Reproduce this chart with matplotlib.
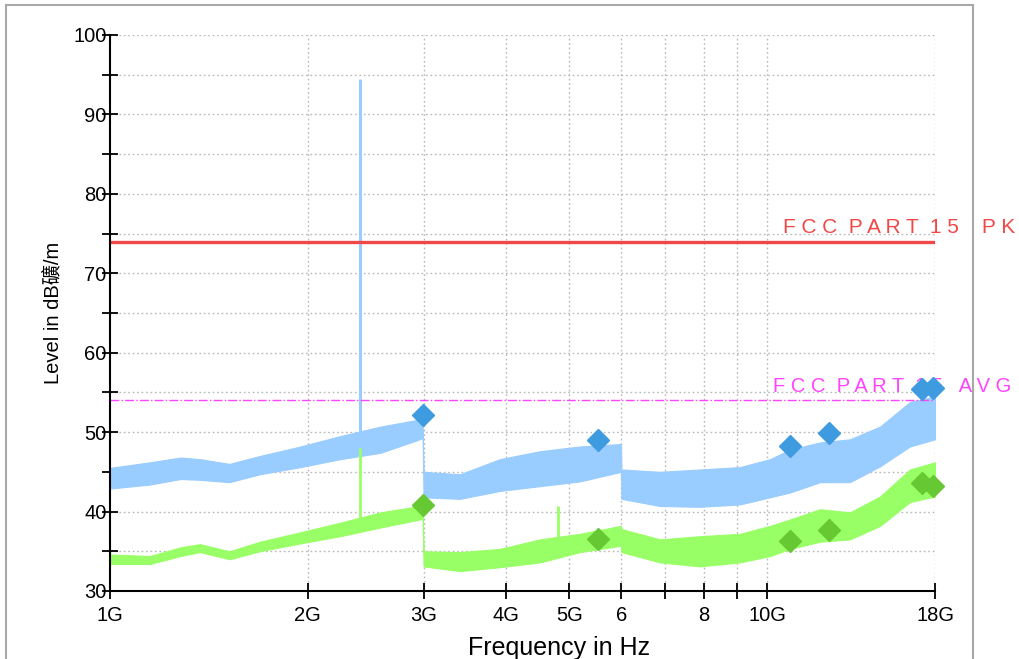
import numpy as np
import matplotlib
matplotlib.use("Agg")
import matplotlib.pyplot as plt
from matplotlib.patches import Rectangle
from matplotlib.ticker import NullLocator

# ---- data ----
freq_ghz = [1.0, 1.15, 1.28, 1.37, 1.52, 1.69, 1.95, 2.24, 2.58, 2.96, 2.99,
            3.0, 3.41, 3.92, 4.51, 5.19, 5.99,
            6.0, 6.87, 7.9, 9.09, 10.1, 10.83, 12.03, 13.36, 14.85, 16.49, 18.0]
peak_lo = [42.9, 43.4, 44.1, 44.0, 43.7, 44.7, 45.6, 46.6, 47.4, 49.1, 49.3,
           41.8, 41.6, 42.6, 43.2, 43.8, 45.0,
           41.6, 40.7, 40.6, 40.9, 41.8, 42.4, 43.7, 43.7, 45.7, 48.2, 49.1]
peak_hi = [45.5, 46.2, 46.8, 46.6, 46.0, 47.0, 48.2, 49.5, 50.7, 51.6, 51.8,
           45.0, 44.7, 46.6, 47.6, 48.2, 48.5,
           45.3, 45.0, 45.3, 45.6, 46.6, 47.8, 48.7, 49.1, 50.7, 53.8, 54.5]
avg_lo = [33.4, 33.4, 34.4, 34.9, 34.0, 35.0, 36.0, 36.9, 38.0, 39.0, 39.2,
          33.1, 32.5, 33.0, 33.6, 34.9, 35.7,
          34.9, 33.6, 33.1, 33.6, 34.4, 35.3, 36.2, 36.5, 38.2, 41.2, 41.9]
avg_hi = [34.6, 34.4, 35.5, 35.9, 35.0, 36.2, 37.4, 38.6, 39.9, 40.7, 40.9,
          35.0, 34.9, 35.3, 36.5, 37.2, 38.2,
          37.8, 36.5, 36.9, 37.2, 38.2, 39.0, 40.3, 39.9, 41.9, 45.3, 46.2]

peak_spike_freq = [2.4]
peak_spike_level = [94.5]
avg_spike_freq = [2.4, 4.8]
avg_spike_level = [48.0, 40.7]

marker_freq = [2.99, 5.53, 10.83, 12.42, 17.2, 17.88]
marker_peak = [52.1, 49.0, 48.3, 49.9, 55.4, 55.5]
marker_avg = [40.8, 36.5, 36.3, 37.7, 43.6, 43.2]

limit_pk = 74.0
limit_avg = 54.0

xtick_vals = [1, 2, 3, 4, 5, 6, 7, 8, 9, 10, 18]
xtick_labels = ['1G', '2G', '3G', '4G', '5G', '6', '', '8', '', '10G', '18G']
ytick_vals = [30, 40, 50, 60, 70, 80, 90, 100]
ytick_labels = ['30', '40', '50', '60', '70', '80', '90', '100']

# ---- figure ----
W, H = 1020, 659
fig = plt.figure(figsize=(W / 100, H / 100), dpi=100)
fig.patch.set_facecolor('white')
ax = fig.add_axes([110 / W, 1 - 591 / H, 825 / W, 556 / H])
ax.set_xscale('log')
ax.set_xlim(1, 18)
ax.set_ylim(30, 100)

font = 'Liberation Sans'

# grid
for yv in range(35, 101, 5):
    ax.axhline(yv, color='#b8b8b8', lw=1.0, ls=(0, (1.2, 2.0)), zorder=0)
for xv in xtick_vals[1:]:
    ax.axvline(xv, color='#b8b8b8', lw=1.0, ls=(0, (1.2, 2.0)), zorder=0)

f = np.array(freq_ghz)
ax.fill_between(f, peak_lo, peak_hi, color='#99ccff', lw=0.8, edgecolor='#99ccff', zorder=2)
ax.fill_between(f, avg_lo, avg_hi, color='#99ff66', lw=0.8, edgecolor='#99ff66', zorder=3)

logf = np.log10(f)
for sf, sl in zip(peak_spike_freq, peak_spike_level):
    base = np.interp(np.log10(sf), logf, peak_hi)
    ax.vlines(sf, base - 1, sl, color='#99ccff', lw=2.2, zorder=2)
for sf, sl in zip(avg_spike_freq, avg_spike_level):
    base = np.interp(np.log10(sf), logf, avg_hi)
    ax.vlines(sf, base - 1, sl, color='#99ff66', lw=2.0, zorder=3)

# limit lines
ax.plot([1, 18], [limit_pk, limit_pk], color='#f04848', lw=2.4, zorder=4, solid_capstyle='butt')
ax.plot([1, 18], [limit_avg, limit_avg], color='#ff44ff', lw=1.0, ls='-.', zorder=4)

tr = ax.get_yaxis_transform()
ax.text((783 - 110) / 825, limit_pk + 0.6, 'F C C  P A R T  1 5    P K', color='#f04848',
        fontsize=15, family=font, transform=tr, clip_on=False, va='bottom', ha='left', zorder=1)
ax.text((773 - 110) / 825, limit_avg + 0.5, 'F C C  P A R T  1 5   A V G', color='#ff44ff',
        fontsize=14.5, family=font, transform=tr, clip_on=False, va='bottom', ha='left', zorder=1)

# markers
ax.plot(marker_freq, marker_peak, ls='none', marker='D', ms=11, color='#3f9be0', zorder=6, clip_on=False)
ax.plot(marker_freq, marker_avg, ls='none', marker='D', ms=11, color='#66c933', zorder=6, clip_on=False)

# axes styling
for s in ['top', 'right']:
    ax.spines[s].set_visible(False)
for s in ['left', 'bottom']:
    ax.spines[s].set_linewidth(1.5)
    ax.spines[s].set_color('black')
    ax.spines[s].set_zorder(7)

ax.xaxis.set_minor_locator(NullLocator())
ax.set_xticks(xtick_vals)
ax.set_xticklabels(xtick_labels, family=font, fontsize=14.5)
ax.set_yticks(ytick_vals)
ax.set_yticklabels(ytick_labels, family=font, fontsize=14.5)
ax.set_yticks(list(range(35, 100, 10)), minor=True)
ax.tick_params(axis='both', which='both', direction='inout', length=11, width=1.3, color='black')
ax.tick_params(axis='y', which='major', pad=-3)
ax.tick_params(axis='x', which='major', pad=5)

ax.set_ylabel('Level in dB礦/m', family=[font, 'Noto Sans CJK SC'], fontsize=14.5, labelpad=8)
fig.text(559 / W, 1 - 648 / H, 'Frequency in Hz', family=font, fontsize=18, ha='center', va='center')

# outer frame
fig.patches.append(Rectangle((6 / W, -0.05), (973 - 6) / W, 1.05 - 5 / H, transform=fig.transFigure,
                             fill=False, edgecolor='#a8a8a8', lw=1.5))

fig.savefig('out.png', dpi=100)
